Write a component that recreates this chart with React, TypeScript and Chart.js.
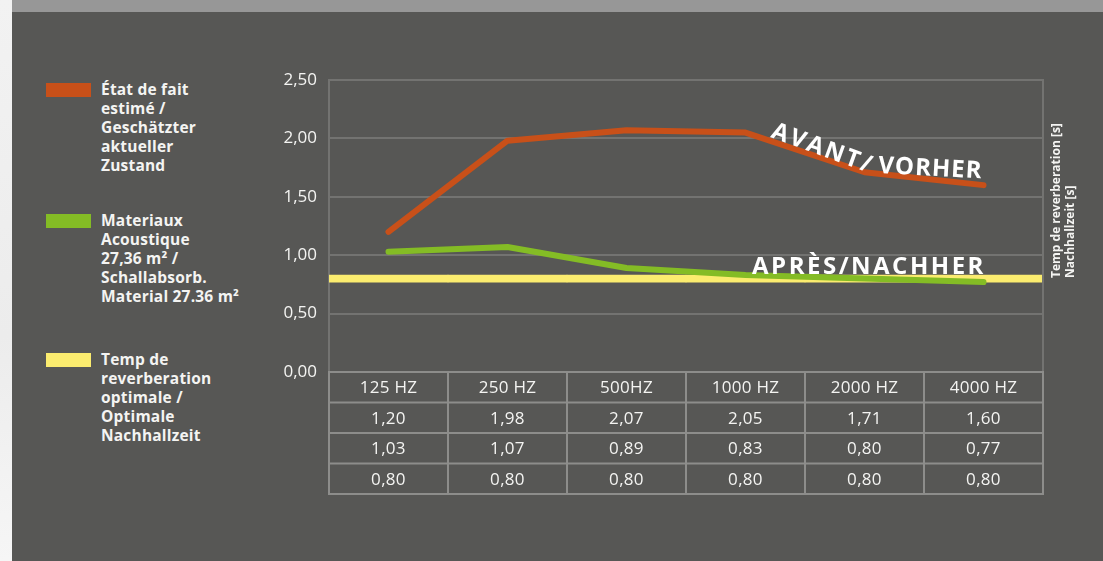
import React, { useEffect, useRef } from 'react';
import { Chart, registerables } from 'chart.js';

Chart.register(...registerables);

// ---- data ----
const categories = ['125 HZ', '250 HZ', '500HZ', '1000 HZ', '2000 HZ', '4000 HZ'];
const etatDeFait = [1.2, 1.98, 2.07, 2.05, 1.71, 1.6];
const materiaux = [1.03, 1.07, 0.89, 0.83, 0.8, 0.77];
const optimale = [0.8, 0.8, 0.8, 0.8, 0.8, 0.8];
const yMin = 0;
const yMax = 2.5;
const yStep = 0.5;

const legendEtat = ['État de fait', 'estimé /', 'Geschätzter', 'aktueller', 'Zustand'];
const legendMat = ['Materiaux', 'Acoustique', '27,36 m² /', 'Schallabsorb.', 'Material 27.36 m²'];
const legendOpt = ['Temp de', 'reverberation', 'optimale /', 'Optimale', 'Nachhallzeit'];
const axisTitle = ['Temp de reverberation [s]', 'Nachhallzeit [s]'];
const labelAvant = ['AVANT/', 'VORHER'];
const labelApres = 'APRÈS/NACHHER';

// ---- style ----
const BG = '#575755';
const ORANGE = '#c85019';
const GREEN = '#84bc25';
const YELLOW = '#fbec6f';
const GRID = '#737371';
const TABLE_LINE = '#8d8d8b';
const TEXT = '#f4f4f2';
const SANS = '"Open Sans", "Noto Sans", sans-serif';

const fmt = (v: number) => v.toFixed(2).replace('.', ',');

const overlayPlugin = {
  id: 'overlay',
  afterDraw(chart: any) {
    const ctx: CanvasRenderingContext2D = chart.ctx;
    const xs = chart.scales.x;
    const ys = chart.scales.y;
    const area = chart.chartArea;
    const n = categories.length;
    const half = (xs.getPixelForValue(1) - xs.getPixelForValue(0)) / 2;
    const left = xs.getPixelForValue(0) - half;
    const right = xs.getPixelForValue(n - 1) + half;
    const top0 = ys.getPixelForValue(0);
    const rowH = 30.5;
    const rows = [categories, etatDeFait.map(fmt), materiaux.map(fmt), optimale.map(fmt)];

    ctx.save();
    // plot right border
    ctx.strokeStyle = GRID;
    ctx.lineWidth = 2;
    ctx.beginPath();
    ctx.moveTo(right, area.top - 1);
    ctx.lineTo(right, top0);
    ctx.stroke();

    // table
    ctx.strokeStyle = TABLE_LINE;
    ctx.lineWidth = 2;
    ctx.beginPath();
    for (let r = 0; r <= rows.length; r++) {
      const y = top0 + r * rowH;
      ctx.moveTo(left - 1, y);
      ctx.lineTo(right + 1, y);
    }
    for (let i = 0; i <= n; i++) {
      const x = left + i * 2 * half;
      ctx.moveTo(x, top0);
      ctx.lineTo(x, top0 + rows.length * rowH);
    }
    ctx.stroke();

    ctx.fillStyle = TEXT;
    ctx.font = `400 17px ${SANS}`;
    (ctx as any).letterSpacing = '0.3px';
    ctx.textAlign = 'center';
    ctx.textBaseline = 'middle';
    rows.forEach((row, r) => {
      row.forEach((txt, i) => {
        ctx.fillText(String(txt), xs.getPixelForValue(i), top0 + r * rowH + rowH / 2 + 1);
      });
    });

    // right axis title
    ctx.font = `700 12px ${SANS}`;
    (ctx as any).letterSpacing = '0px';
    ctx.textAlign = 'left';
    ctx.textBaseline = 'middle';
    axisTitle.forEach((t, i) => {
      ctx.save();
      ctx.translate(1057 + i * 14, 278);
      ctx.rotate(-Math.PI / 2);
      ctx.fillText(t, 0, 0);
      ctx.restore();
    });

    // annotations
    ctx.fillStyle = '#ffffff';
    ctx.font = `700 24px ${SANS}`;
    ctx.textBaseline = 'alphabetic';
    (ctx as any).letterSpacing = '2.5px';
    ctx.save();
    ctx.translate(770, 137);
    ctx.rotate((20 * Math.PI) / 180);
    ctx.fillText(labelAvant[0], 0, 0);
    ctx.restore();
    (ctx as any).letterSpacing = '1px';
    ctx.save();
    ctx.translate(878, 173);
    ctx.rotate((3 * Math.PI) / 180);
    ctx.fillText(labelAvant[1], 0, 0);
    ctx.restore();
    (ctx as any).letterSpacing = '2.5px';
    ctx.fillText(labelApres, 752, 274);
    ctx.restore();
  },
};

function Legend() {
  const items = [
    { color: ORANGE, lines: legendEtat, top: 83 },
    { color: GREEN, lines: legendMat, top: 214 },
    { color: YELLOW, lines: legendOpt, top: 353 },
  ];
  return (
    <>
      {items.map((it, k) => (
        <div key={k}>
          <div
            style={{
              position: 'absolute',
              left: 46,
              top: it.top,
              width: 45,
              height: 14,
              background: it.color,
            }}
          />
          <div
            style={{
              position: 'absolute',
              left: 101,
              top: it.top - 3,
              font: `700 15.5px/19px ${SANS}`,
              letterSpacing: '0.2px',
              color: TEXT,
              whiteSpace: 'nowrap',
            }}
          >
            {it.lines.map((l, i) => (
              <div key={i}>{l}</div>
            ))}
          </div>
        </div>
      ))}
    </>
  );
}

export default function App() {
  const canvasRef = useRef<HTMLCanvasElement | null>(null);

  useEffect(() => {
    const canvas = canvasRef.current;
    if (!canvas) return;
    const chart = new Chart(canvas, {
      type: 'line',
      data: {
        labels: categories,
        datasets: [
          {
            type: 'line',
            label: 'État de fait estimé',
            data: etatDeFait,
            borderColor: ORANGE,
            borderWidth: 6,
            pointRadius: 0,
            borderCapStyle: 'round',
            borderJoinStyle: 'round',
            tension: 0,
            order: 1,
          },
          {
            type: 'line',
            label: 'Materiaux Acoustique',
            data: materiaux,
            borderColor: GREEN,
            borderWidth: 6,
            pointRadius: 0,
            borderCapStyle: 'round',
            borderJoinStyle: 'round',
            tension: 0,
            order: 2,
          },
          {
            type: 'bar',
            label: 'Temp de reverberation optimale',
            data: optimale.map((v) => [v - 0.03, v + 0.03]) as any,
            backgroundColor: YELLOW,
            borderWidth: 0,
            barPercentage: 1,
            categoryPercentage: 1,
            order: 3,
          },
        ],
      },
      options: {
        responsive: false,
        animation: false,
        layout: { padding: { left: 269, right: 60, top: 80, bottom: 189 } },
        plugins: { legend: { display: false }, tooltip: { enabled: false } },
        scales: {
          x: { type: 'category', display: false, offset: true },
          y: {
            min: yMin,
            max: yMax,
            afterFit: (s: any) => {
              s.width = 60;
            },
            ticks: {
              stepSize: yStep,
              color: TEXT,
              padding: 12,
              font: { family: SANS, size: 17, weight: 400 },
              callback: (v: any) => fmt(Number(v)),
            },
            grid: { color: GRID, lineWidth: 2, drawTicks: false },
            border: { display: true, color: GRID, width: 2 },
          },
        },
      },
      plugins: [overlayPlugin],
    });
    return () => chart.destroy();
  }, []);

  return (
    <div
      style={{
        position: 'fixed',
        left: 0,
        top: 0,
        width: 1103,
        height: 561,
        background: BG,
        overflow: 'hidden',
      }}
    >
      <div style={{ position: 'absolute', left: 0, top: 0, width: 1103, height: 12, background: '#979797' }} />
      <div
        style={{
          position: 'absolute',
          left: 0,
          top: 0,
          width: 12,
          height: 561,
          background: 'linear-gradient(to bottom, #f2f2f2, #ececec 60%, #f6f6f6)',
        }}
      />
      <Legend />
      <canvas
        ref={canvasRef}
        width={1103}
        height={561}
        style={{ position: 'absolute', left: 0, top: 0, width: 1103, height: 561 }}
      />
    </div>
  );
}
